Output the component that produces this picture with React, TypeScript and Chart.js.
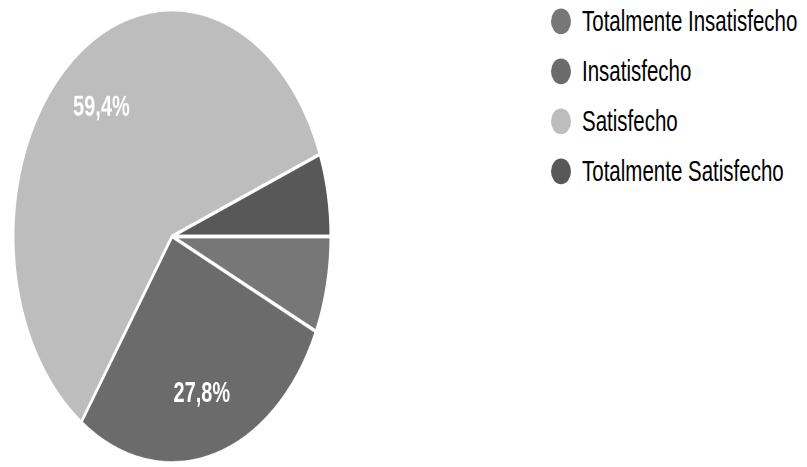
import React, { useEffect, useRef } from "react";
import { Chart, registerables } from "chart.js";

Chart.register(...registerables);

const categories = ["Totalmente Insatisfecho", "Insatisfecho", "Satisfecho", "Totalmente Satisfecho"];
const values = [6.9, 27.8, 59.4, 5.9];
const shownLabels = ["", "27,8%", "59,4%", ""];
const sliceColors = ["#777777", "#6b6b6b", "#bdbdbd", "#585858"];

const SY = 467 / 327;

const sliceLabelPlugin = {
  id: "sliceLabels",
  afterDatasetsDraw(chart: any) {
    const ctx = chart.ctx;
    const meta = chart.getDatasetMeta(0);
    meta.data.forEach((arc: any, i: number) => {
      const txt = shownLabels[i];
      if (!txt) return;
      const p = arc.getProps(["x", "y", "startAngle", "endAngle", "outerRadius"], true);
      const mid = (p.startAngle + p.endAngle) / 2;
      const r = p.outerRadius * 0.72;
      ctx.save();
      ctx.fillStyle = "#ffffff";
      ctx.font = "bold 20px 'Liberation Sans', Arial, sans-serif";
      ctx.textAlign = "center";
      ctx.textBaseline = "middle";
      ctx.fillText(txt, p.x + Math.cos(mid) * r, p.y + Math.sin(mid) * r);
      ctx.restore();
    });
  },
};

export default function App() {
  const canvasRef = useRef<HTMLCanvasElement | null>(null);

  useEffect(() => {
    if (!canvasRef.current) return;
    const chart = new Chart(canvasRef.current, {
      type: "pie",
      data: {
        labels: categories,
        datasets: [
          {
            data: values,
            backgroundColor: sliceColors,
            borderColor: "#ffffff",
            borderWidth: 2.5,
          },
        ],
      },
      options: {
        responsive: false,
        animation: false,
        devicePixelRatio: 2,
        rotation: 90,
        layout: { padding: { left: 12, right: 18, top: 5, bottom: 1 } },
        plugins: {
          legend: { display: false },
          tooltip: { enabled: false },
        },
      },
      plugins: [sliceLabelPlugin],
    });
    return () => chart.destroy();
  }, []);

  return (
    <div
      style={{
        position: "fixed",
        left: 0,
        top: 0,
        width: 807,
        height: 327,
        transform: `scaleY(${SY})`,
        transformOrigin: "0 0",
        background: "#ffffff",
      }}
    >
      <canvas
        ref={canvasRef}
        width={350}
        height={327}
        style={{ position: "absolute", left: 0, top: 0, width: 350, height: 327 }}
      />
      {categories.map((c, i) => (
        <div
          key={c}
          style={{
            position: "absolute",
            left: 551,
            top: 14.7 + i * 35.2 - 12,
            height: 24,
            display: "flex",
            alignItems: "center",
            whiteSpace: "nowrap",
          }}
        >
          <div
            style={{
              width: 20,
              height: 18,
              borderRadius: "50%",
              background: sliceColors[i],
              marginRight: 11,
              flex: "none",
            }}
          />
          <span
            style={{
              fontFamily: "'Liberation Sans', Arial, sans-serif",
              fontSize: 20.5,
              color: "#000000",
              lineHeight: "24px",
            }}
          >
            {c}
          </span>
        </div>
      ))}
    </div>
  );
}
